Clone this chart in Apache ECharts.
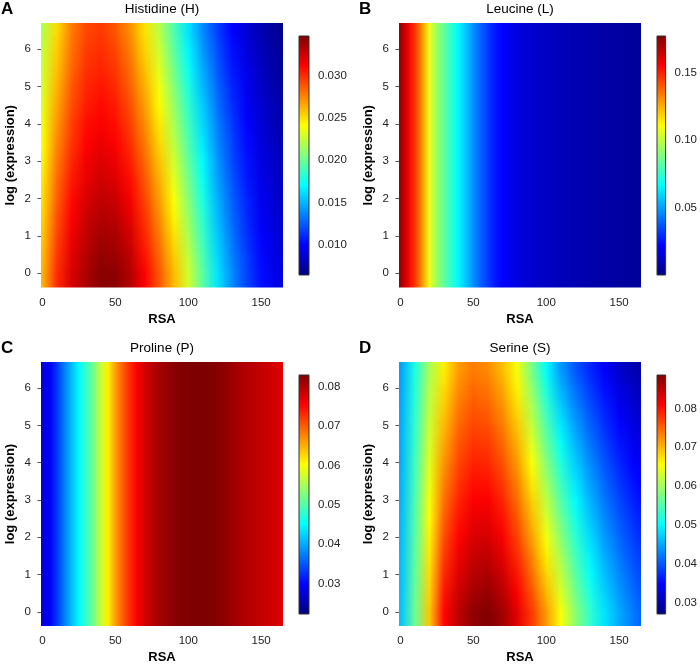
<!DOCTYPE html>
<html><head><meta charset="utf-8">
<script src="https://cdn.jsdelivr.net/npm/echarts@6/dist/echarts.min.js"></script>
<style>html,body{margin:0;padding:0;background:#fff}#c{width:700px;height:665px}</style>
</head><body><div id="c"></div>
<script>
// ---------------- data ----------------
const X_COLS = [0,10,20,30,40,50,60,70,80,90,100,110,120,130,140,150,160,165];
const Y_ROWS = [0,0.5,1,1.5,2,2.5,3,3.5,4,4.5,5,5.5,6,6.5];
const X_FINE = [0,5,10,15,20,25,30,35,40,45,50,55,60,65,70,75,80,85,90,95,100,105,110,115,120,125,130,135,140,145,150,155,160,165];

// Histidine: one row per Y_ROWS entry, values at X_COLS
const histidine = [
 [.0262,.0300,.0322,.0335,.0344,.0343,.0333,.0312,.0288,.0260,.0228,.0195,.0163,.0138,.0118,.0103,.0093,.0090],
 [.0259,.0296,.0319,.0332,.0341,.0339,.0329,.0307,.0283,.0255,.0223,.0191,.0159,.0135,.0116,.0101,.0091,.0088],
 [.0256,.0293,.0316,.0329,.0337,.0335,.0324,.0302,.0278,.0250,.0218,.0186,.0156,.0132,.0113,.0099,.0090,.0087],
 [.0253,.0289,.0312,.0326,.0333,.0330,.0319,.0298,.0273,.0244,.0213,.0182,.0152,.0129,.0111,.0097,.0088,.0085],
 [.0250,.0285,.0309,.0322,.0329,.0326,.0314,.0293,.0268,.0239,.0208,.0177,.0149,.0126,.0109,.0095,.0086,.0083],
 [.0247,.0282,.0305,.0318,.0325,.0321,.0309,.0288,.0263,.0234,.0203,.0173,.0145,.0123,.0106,.0093,.0085,.0082],
 [.0244,.0278,.0301,.0315,.0321,.0317,.0304,.0283,.0258,.0229,.0198,.0169,.0142,.0120,.0104,.0091,.0083,.0080],
 [.0240,.0274,.0297,.0311,.0317,.0312,.0299,.0278,.0252,.0223,.0193,.0164,.0138,.0118,.0102,.0090,.0081,.0078],
 [.0237,.0270,.0294,.0308,.0313,.0308,.0294,.0273,.0247,.0218,.0188,.0160,.0135,.0115,.0100,.0088,.0079,.0076],
 [.0234,.0266,.0290,.0304,.0309,.0304,.0290,.0268,.0242,.0213,.0183,.0156,.0131,.0112,.0097,.0086,.0078,.0075],
 [.0231,.0262,.0287,.0301,.0306,.0300,.0285,.0263,.0237,.0208,.0178,.0151,.0128,.0109,.0095,.0084,.0076,.0073],
 [.0228,.0258,.0283,.0298,.0302,.0296,.0281,.0258,.0232,.0202,.0173,.0147,.0124,.0106,.0093,.0082,.0074,.0071],
 [.0225,.0255,.0280,.0295,.0299,.0292,.0276,.0253,.0227,.0197,.0168,.0142,.0121,.0103,.0090,.0080,.0073,.0070],
 [.0220,.0251,.0277,.0292,.0296,.0288,.0272,.0249,.0222,.0192,.0163,.0138,.0117,.0100,.0088,.0078,.0071,.0068]
];
// Serine: one row per Y_ROWS entry, values at X_COLS
const serine = [
 [.0465,.0565,.0690,.0808,.0850,.0875,.0884,.0865,.0825,.0775,.0715,.0650,.0585,.0530,.0485,.0450,.0420,.0408],
 [.0464,.0562,.0683,.0797,.0840,.0864,.0872,.0852,.0811,.0760,.0698,.0634,.0571,.0518,.0474,.0440,.0411,.0399],
 [.0462,.0559,.0677,.0786,.0829,.0853,.0860,.0839,.0798,.0744,.0682,.0618,.0557,.0505,.0463,.0430,.0402,.0391],
 [.0461,.0556,.0670,.0775,.0819,.0843,.0847,.0826,.0784,.0729,.0665,.0602,.0542,.0493,.0452,.0420,.0393,.0382],
 [.0459,.0553,.0664,.0764,.0808,.0832,.0835,.0813,.0770,.0713,.0649,.0585,.0528,.0481,.0441,.0410,.0384,.0373],
 [.0458,.0550,.0657,.0753,.0798,.0821,.0823,.0800,.0757,.0698,.0632,.0569,.0514,.0468,.0430,.0400,.0375,.0365],
 [.0456,.0546,.0651,.0742,.0788,.0810,.0811,.0787,.0743,.0683,.0616,.0553,.0500,.0456,.0419,.0390,.0366,.0356],
 [.0455,.0542,.0644,.0731,.0777,.0800,.0798,.0773,.0730,.0667,.0599,.0537,.0485,.0444,.0409,.0380,.0356,.0347],
 [.0453,.0538,.0638,.0720,.0767,.0789,.0786,.0760,.0716,.0652,.0583,.0521,.0471,.0432,.0398,.0370,.0347,.0339],
 [.0452,.0534,.0631,.0709,.0757,.0778,.0774,.0747,.0702,.0637,.0566,.0505,.0457,.0419,.0387,.0360,.0338,.0330],
 [.0450,.0530,.0625,.0698,.0746,.0767,.0762,.0734,.0689,.0621,.0550,.0489,.0443,.0407,.0376,.0350,.0329,.0321],
 [.0449,.0526,.0618,.0687,.0736,.0757,.0749,.0721,.0675,.0606,.0533,.0472,.0428,.0395,.0365,.0340,.0320,.0313],
 [.0447,.0522,.0612,.0676,.0725,.0746,.0737,.0708,.0661,.0590,.0517,.0456,.0414,.0382,.0354,.0330,.0311,.0304],
 [.0445,.0518,.0605,.0665,.0715,.0735,.0725,.0695,.0648,.0575,.0500,.0440,.0400,.0370,.0343,.0318,.0300,.0293]
];
// Leucine and Proline do not vary with expression: one row at X_FINE
const leucine = [.172,.158,.146,.128,.107,.093,.083,.074,.065,.056,.047,.039,.032,.026,.022,.019,.017,.015,.014,.013,.012,.011,.010,.0095,.009,.0085,.008,.0075,.007,.0065,.006,.0055,.005,.0048];
const proline = [.0277,.0292,.0331,.0374,.0410,.0447,.0483,.0520,.0569,.0611,.0660,.0698,.0730,.0758,.0780,.0795,.0807,.0816,.0823,.0828,.0830,.0830,.0830,.0829,.0826,.0820,.0812,.0806,.0800,.0795,.0790,.0784,.0778,.0772];

// colour key ranges and tick labels
const RANGE_H = [0.0064, 0.0347];
const RANGE_L = [0.0, 0.177];
const RANGE_P = [0.0222, 0.083];
const RANGE_S = [0.027, 0.0886];
const TICKS_H = [0.010, 0.015, 0.020, 0.025, 0.030];
const TICKS_L = [0.05, 0.10, 0.15];
const TICKS_P = [0.03, 0.04, 0.05, 0.06, 0.07, 0.08];
const TICKS_S = [0.03, 0.04, 0.05, 0.06, 0.07, 0.08];
const X_TICKS = [0, 50, 100, 150];
const Y_TICKS = [0, 1, 2, 3, 4, 5, 6];
const X_EXTENT = [-1, 165];
const Y_EXTENT = [-0.38, 6.7];

// ---------------- drawing ----------------
const JET = ['#00007F','#0000FF','#007FFF','#00FFFF','#7FFF7F','#FFFF00','#FF7F00','#FF0000','#7F0000'];
const JET_RGB = JET.map(h => [parseInt(h.slice(1,3),16), parseInt(h.slice(3,5),16), parseInt(h.slice(5,7),16)]);
function jet(t) {
  t = Math.max(0, Math.min(1, t));
  const s = t * (JET_RGB.length - 1);
  const i = Math.min(Math.floor(s), JET_RGB.length - 2);
  const f = s - i;
  const a = JET_RGB[i], b = JET_RGB[i+1];
  return 'rgb(' + [0,1,2].map(j => Math.round(a[j] + (b[j]-a[j]) * f)).join(',') + ')';
}

const panels = [
  {letter:'A', title:'Histidine (H)', xs:X_COLS, ys:Y_ROWS, rows:histidine, range:RANGE_H, ticks:TICKS_H, dec:3,
   grid:{left:41, top:23, width:242, height:264.5}, bar:{left:299, top:36, width:10, height:239}},
  {letter:'B', title:'Leucine (L)', xs:X_FINE, ys:[3], rows:[leucine], range:RANGE_L, ticks:TICKS_L, dec:2,
   grid:{left:399, top:23, width:242, height:264.5}, bar:{left:657, top:36, width:10, height:239}},
  {letter:'C', title:'Proline (P)', xs:X_FINE, ys:[3], rows:[proline], range:RANGE_P, ticks:TICKS_P, dec:2,
   grid:{left:41, top:362, width:242, height:264.5}, bar:{left:299, top:375, width:10, height:239}},
  {letter:'D', title:'Serine (S)', xs:X_COLS, ys:Y_ROWS, rows:serine, range:RANGE_S, ticks:TICKS_S, dec:2,
   grid:{left:399, top:362, width:242, height:264.5}, bar:{left:657, top:375, width:10, height:239}}
];

const FONT = '"Liberation Sans", Arial, Helvetica, sans-serif';
const BLEND_STEPS = 12;
const grids = [], xAxes = [], yAxes = [], series = [], graphics = [];

panels.forEach((p, pi) => {
  const gi = grids.length;
  grids.push(Object.assign({containLabel:false}, p.grid));
  xAxes.push({
    gridIndex: gi, type:'value', min:X_EXTENT[0], max:X_EXTENT[1],
    name:'RSA', nameLocation:'middle', nameGap:25,
    nameTextStyle:{fontFamily:FONT, fontWeight:'bold', fontSize:13, color:'#000'},
    axisLine:{show:false}, splitLine:{show:false},
    axisTick:{show:true, length:5, lineStyle:{color:'#555'}, customValues:X_TICKS},
    axisLabel:{show:true, margin:9, fontFamily:FONT, fontSize:11.5, color:'#222', customValues:X_TICKS}
  });
  yAxes.push({
    gridIndex: gi, type:'value', min:Y_EXTENT[0], max:Y_EXTENT[1],
    name:'log (expression)', nameLocation:'middle', nameGap:24,
    nameTextStyle:{fontFamily:FONT, fontWeight:'bold', fontSize:13, color:'#000'},
    axisLine:{show:false}, splitLine:{show:false},
    axisTick:{show:true, length:5, lineStyle:{color:'#555'}, customValues:Y_TICKS},
    axisLabel:{show:true, margin:10, fontFamily:FONT, fontSize:11.5, color:'#222', customValues:Y_TICKS}
  });
  const ys = p.ys, rows = p.rows, xs = p.xs, range = p.range;
  const rowFill = function (api, k, x0, w) {
    const stops = xs.map((x, i) => ({
      offset: Math.max(0, Math.min(1, (api.coord([x, ys[k]])[0] - x0) / w)),
      color: jet((rows[k][i] - range[0]) / (range[1] - range[0]))
    }));
    return new echarts.graphic.LinearGradient(0, 0, 1, 0, stops);
  };
  series.push({
    type:'custom', coordinateSystem:'cartesian2d', xAxisIndex:gi, yAxisIndex:gi, clip:true, silent:true,
    data: ys.map((y, k) => [k, y]),
    renderItem: function (params, api) {
      const k = api.value(0);
      const last = ys.length - 1;
      const lo = k === 0 ? Y_EXTENT[0] : ys[k];
      const hi = k === last ? Y_EXTENT[1] : ys[k+1];
      const p0 = api.coord([X_EXTENT[0], lo]);
      const p1 = api.coord([X_EXTENT[1], hi]);
      const x0 = p0[0], w = p1[0] - p0[0];
      const children = [];
      if (k === 0 && last > 0) {
        const q = api.coord([X_EXTENT[0], ys[0]]);
        children.push({type:'rect', shape:{x:x0, y:Math.round(q[1]), width:w, height:Math.round(p0[1]) - Math.round(q[1])},
          style:{fill:rowFill(api, 0, x0, w)}});
      }
      const yA = k === 0 && last > 0 ? api.coord([X_EXTENT[0], ys[0]])[1] : p0[1];
      const yB = p1[1];
      const top = Math.round(yB), bot = Math.round(yA);
      children.push({type:'rect', shape:{x:x0, y:top, width:w, height:bot - top + 1},
        style:{fill:rowFill(api, k, x0, w)}});
      if (k < last) {
        // blend toward the next sample row across the gap between the two rows
        const fillNext = rowFill(api, k + 1, x0, w);
        for (let j = 0; j < BLEND_STEPS; j++) {
          const sb = yA + (yB - yA) * j / BLEND_STEPS;
          const st = yA + (yB - yA) * (j + 1) / BLEND_STEPS;
          children.push({type:'rect', shape:{x:x0, y:st, width:w, height:sb - st + 0.3},
            style:{fill:fillNext, opacity:(j + 0.5) / BLEND_STEPS}});
        }
      }
      return {type:'group', children:children};
    }
  });

  // colour key
  const bi = grids.length;
  grids.push(Object.assign({containLabel:false}, p.bar));
  xAxes.push({gridIndex:bi, type:'value', min:0, max:1, show:false});
  yAxes.push({
    gridIndex:bi, type:'value', min:range[0], max:range[1], position:'right',
    axisLine:{show:false}, splitLine:{show:false},
    axisTick:{show:true, length:5, lineStyle:{color:'#555'}, customValues:p.ticks},
    axisLabel:{show:true, margin:9, fontFamily:FONT, fontSize:11.5, color:'#222', customValues:p.ticks,
      formatter: v => Number(v).toFixed(p.dec)}
  });
  const nStops = 40;
  series.push({
    type:'custom', coordinateSystem:'cartesian2d', xAxisIndex:bi, yAxisIndex:bi, silent:true,
    data:[[0, range[0], 1, range[1]]],
    renderItem: function (params, api) {
      const a = api.coord([api.value(0), api.value(1)]);
      const b = api.coord([api.value(2), api.value(3)]);
      const stops = [];
      for (let i = 0; i <= nStops; i++) stops.push({offset:i / nStops, color:jet(i / nStops)});
      return {type:'rect', shape:{x:a[0], y:b[1], width:b[0]-a[0], height:a[1]-b[1]},
        style:{fill:new echarts.graphic.LinearGradient(0, 1, 0, 0, stops), stroke:'#333', lineWidth:1}};
    }
  });

  const cx = p.grid.left + p.grid.width / 2;
  graphics.push({type:'text', x:cx, y:p.grid.top - 14, style:{text:p.title, font:'13.5px ' + FONT, fill:'#000', textAlign:'center', textVerticalAlign:'middle'}});
  graphics.push({type:'text', x:p.grid.left - 40, y:p.grid.top - 14, style:{text:p.letter, font:'bold 17px ' + FONT, fill:'#000', textAlign:'left', textVerticalAlign:'middle'}});
});

const chart = echarts.init(document.getElementById('c'), null, {renderer:'canvas'});
chart.setOption({
  animation:false,
  backgroundColor:'#fff',
  grid:grids, xAxis:xAxes, yAxis:yAxes, series:series, graphic:graphics
});
</script></body></html>
